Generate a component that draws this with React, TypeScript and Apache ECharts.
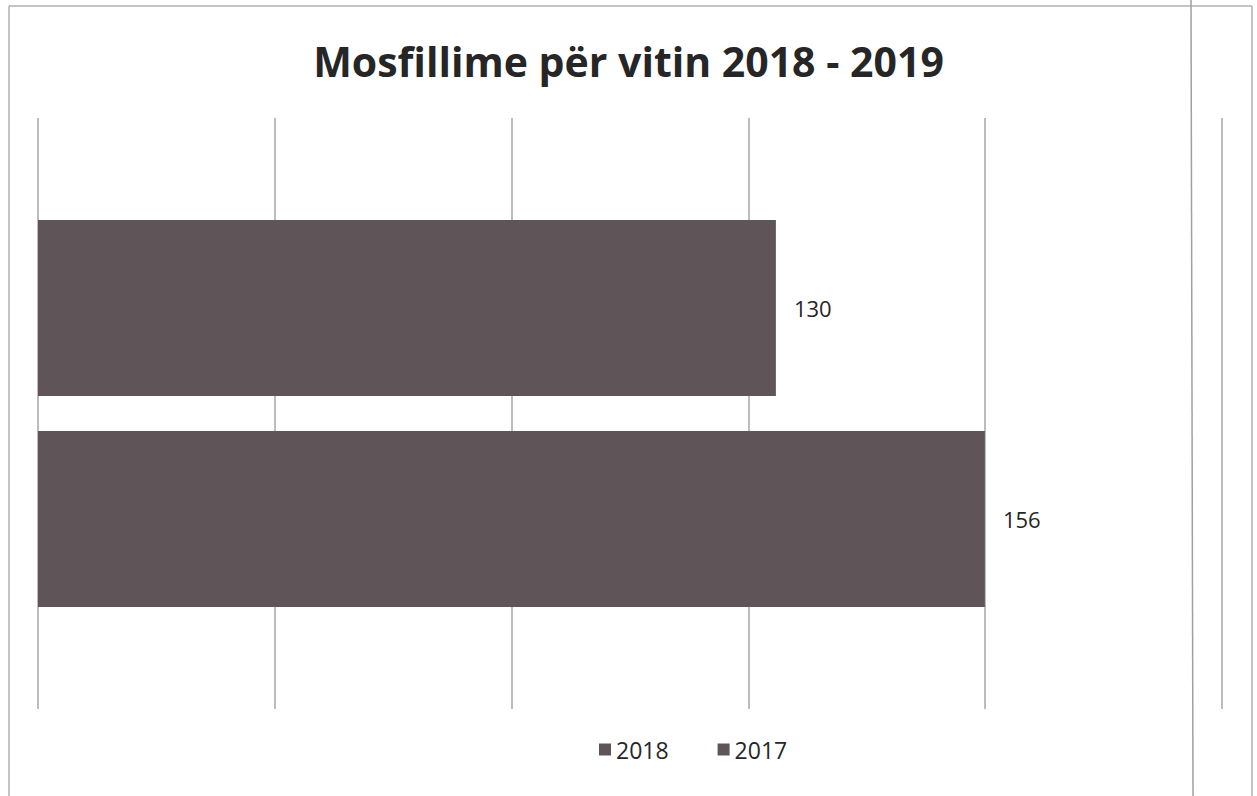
import React, { useEffect, useRef } from "react";
import * as echarts from "echarts";

const title = "Mosfillime për vitin 2018 - 2019";
const categories = [""];
const legendOrder = ["2018", "2017"];
const seriesNames = ["2017", "2018"]; // drawn top to bottom
const seriesValues = [[130], [156]];
const barColor = "#5f5558";
const gridColor = "#a6a6a6";

export default function App() {
  const ref = useRef<HTMLDivElement>(null);
  useEffect(() => {
    const chart = echarts.init(ref.current!, null, { renderer: "svg" });
    const font = "'Open Sans', 'Noto Sans', sans-serif";
    chart.setOption({
      animation: false,
      backgroundColor: "#ffffff",
      title: {
        text: title,
        left: "center",
        top: 35,
        textStyle: { fontFamily: font, fontSize: 41, fontWeight: "bold", color: "#262626" },
      },
      legend: {
        data: legendOrder,
        top: 733,
        left: 594,
        itemWidth: 12,
        itemHeight: 12,
        itemGap: 49,
        icon: "rect",
        textStyle: { fontFamily: font, fontSize: 23, color: "#262626" },
      },
      grid: { left: 38, right: 35, top: 118, bottom: 87 },
      xAxis: [
        {
          type: "value",
          min: 38.2,
          max: 185.5,
          axisLabel: { show: false },
          axisLine: { show: false },
          axisTick: { show: false },
          splitLine: { show: false },
        },
        {
          type: "value",
          min: 0,
          max: 5,
          interval: 1,
          position: "bottom",
          axisLabel: { show: false },
          axisLine: { show: false },
          axisTick: { show: false },
          splitLine: { show: true, lineStyle: { color: gridColor, width: 1.5 } },
        },
      ],
      yAxis: {
        type: "category",
        data: categories,
        axisLine: { show: false },
        axisTick: { show: false },
        axisLabel: { show: false },
      },
      series: seriesNames.map((name, i) => ({
        name,
        type: "bar",
        xAxisIndex: 0,
        data: seriesValues[i],
        barWidth: 176,
        barGap: "20%",
        itemStyle: { color: barColor },
        label: {
          show: true,
          position: "right",
          distance: 18,
          fontFamily: font,
          fontSize: 22,
          color: "#262626",
        },
      })),
      graphic: [
        { type: "line", shape: { x1: 9, y1: 6, x2: 1252, y2: 6 }, style: { stroke: "#b0b0b0", lineWidth: 1.5 } },
        { type: "line", shape: { x1: 9, y1: 6, x2: 9, y2: 796 }, style: { stroke: "#b0b0b0", lineWidth: 1.5 } },
        { type: "line", shape: { x1: 1252, y1: 6, x2: 1252, y2: 796 }, style: { stroke: "#b0b0b0", lineWidth: 1.5 } },
        { type: "line", shape: { x1: 1191, y1: 0, x2: 1193, y2: 796 }, style: { stroke: "#a0a0a0", lineWidth: 1.5 } },
      ],
    });
    return () => chart.dispose();
  }, []);
  return <div ref={ref} style={{ position: "fixed", left: 0, top: 0, width: 1257, height: 796 }} />;
}
